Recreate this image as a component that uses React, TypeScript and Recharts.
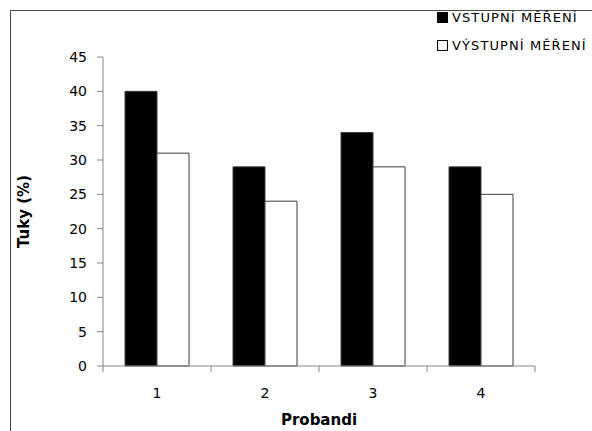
import { Bar, BarChart, Label, Legend, XAxis, YAxis } from 'recharts'

const categories = ['1', '2', '3', '4']
const vstupni = [40, 29, 34, 29]
const vystupni = [31, 24, 29, 25]
const yTicks = [0, 5, 10, 15, 20, 25, 30, 35, 40, 45]

const data = categories.map((c, i) => ({
    proband: c,
    vstupni: vstupni[i],
    vystupni: vystupni[i],
}))

const W = 592
const H = 431
const MARGIN = { top: 57, right: 57, bottom: 0, left: 0 }
const Y_WIDTH = 103
const X_HEIGHT = 65
const BAND = (W - MARGIN.right - Y_WIDTH) / categories.length
const FONT = '"DejaVu Sans", Verdana, sans-serif'
const AXIS = '#868686'

// Excel puts the x ticks between the categories, not under them
function XTick(props: any) {
    const { x, y, payload, index } = props
    const half = BAND / 2
    return (
        <g>
            <line x1={x - half} x2={x - half} y1={y} y2={y + 6} stroke={AXIS} />
            {index === categories.length - 1 && (
                <line x1={x + half} x2={x + half} y1={y} y2={y + 6} stroke={AXIS} />
            )}
            <text x={x} y={y + 27} textAnchor='middle' dominantBaseline='central'
                fontSize={14} fontFamily={FONT} fill='#000'>
                {payload.value}
            </text>
        </g>
    )
}

function LegendBox(props: any) {
    const { payload } = props
    return (
        <div style={{ fontFamily: FONT, fontSize: 13, letterSpacing: 1.1, textAlign: 'left' }}>
            {payload.map((p: any) => (
                <div key={p.value} style={{ display: 'flex', alignItems: 'center', height: 28, whiteSpace: 'nowrap' }}>
                    <span style={{
                        width: 9, height: 9, marginRight: 4, flexShrink: 0,
                        background: p.payload.fill, border: '1px solid #000',
                    }} />
                    <span>{p.value}</span>
                </div>
            ))}
        </div>
    )
}

export default function App() {
    return (
        <div style={{ position: 'fixed', left: 0, top: 0, width: W, height: H, background: '#fff', overflow: 'hidden' }}>
            <div style={{
                position: 'absolute', left: 10, top: 10, right: -2, bottom: -2,
                borderLeft: '1px solid #4a4a4a', borderTop: '1px solid #4a4a4a',
            }} />
            <BarChart width={W} height={H} data={data} margin={MARGIN}
                barCategoryGap={22} barGap={0} style={{ position: 'absolute', left: 0, top: 0 }}>
                <XAxis dataKey='proband' height={X_HEIGHT} stroke={AXIS} tickLine={false}
                    tickSize={0} tickMargin={0} tick={<XTick />} interval={0}>
                    <Label value='Probandi' position='insideBottom' offset={6}
                        style={{ fontFamily: FONT, fontSize: 15, fontWeight: 'bold', fill: '#000' }} />
                </XAxis>
                <YAxis width={Y_WIDTH} domain={[0, 45]} ticks={yTicks} stroke={AXIS}
                    tickSize={6} tickMargin={10}
                    tick={{ fill: '#000', fontSize: 14, fontFamily: FONT }}>
                    <Label value='Tuky (%)' angle={-90} position='insideLeft' offset={24}
                        style={{ textAnchor: 'middle', fontFamily: FONT, fontSize: 15, fontWeight: 'bold', fill: '#000' }} />
                </YAxis>
                <Legend layout='horizontal' verticalAlign='middle' align='center' content={<LegendBox />}
                    wrapperStyle={{ left: 437, top: 3, width: 170, right: 'auto', bottom: 'auto' }} />
                <Bar dataKey='vstupni' name='VSTUPNÍ MĚŘENÍ' fill='#000' stroke='#3c3c3c'
                    isAnimationActive={false} />
                <Bar dataKey='vystupni' name='VÝSTUPNÍ MĚŘENÍ' fill='#fff' stroke='#3c3c3c'
                    isAnimationActive={false} />
            </BarChart>
        </div>
    )
}
